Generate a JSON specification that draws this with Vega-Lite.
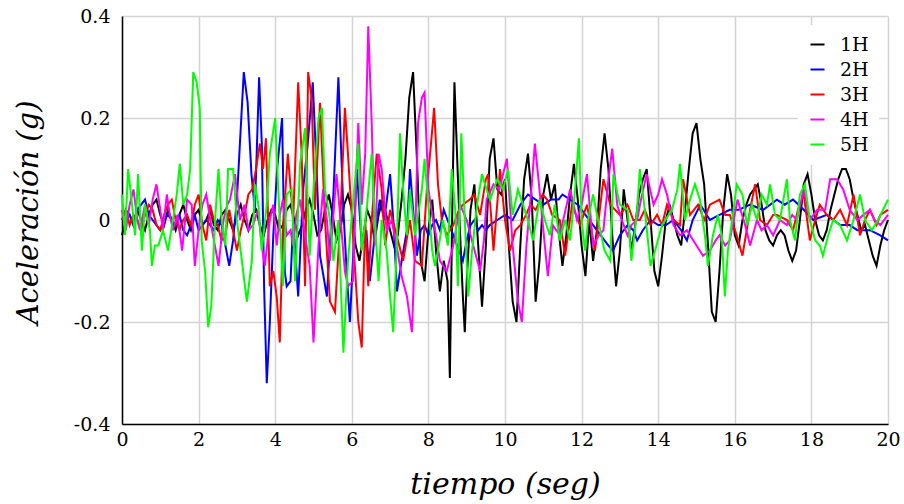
{
  "$schema": "https://vega.github.io/schema/vega-lite/v6.json",
  "width": 766,
  "height": 408,
  "autosize": {"type": "none"},
  "padding": {"left": 122, "top": 16, "right": 16, "bottom": 80},
  "background": "white",
  "config": {"view": {"stroke": null}, "font": "DejaVu Serif"},
  "datasets": {
    "h1": [{"t":0,"g":-0.03},{"t":0.1,"g":0},{"t":0.2,"g":0.01},{"t":0.3,"g":-0.01},{"t":0.4,"g":0.02},{"t":0.5,"g":0},{"t":0.6,"g":-0.02},{"t":0.7,"g":0.01},{"t":0.8,"g":0.03},{"t":0.9,"g":0.04},{"t":1,"g":0.01},{"t":1.1,"g":-0.01},{"t":1.2,"g":0.02},{"t":1.3,"g":0},{"t":1.4,"g":-0.02},{"t":1.5,"g":0.01},{"t":1.6,"g":0.03},{"t":1.7,"g":0},{"t":1.8,"g":-0.02},{"t":1.9,"g":0.01},{"t":2,"g":0.02},{"t":2.1,"g":-0.01},{"t":2.2,"g":0},{"t":2.3,"g":0.02},{"t":2.4,"g":-0.01},{"t":2.5,"g":-0.02},{"t":2.6,"g":0.01},{"t":2.7,"g":0.02},{"t":2.8,"g":0},{"t":2.9,"g":-0.02},{"t":3,"g":0.01},{"t":3.1,"g":0.03},{"t":3.2,"g":0},{"t":3.3,"g":-0.02},{"t":3.4,"g":0.01},{"t":3.5,"g":0.02},{"t":3.6,"g":-0.01},{"t":3.7,"g":-0.03},{"t":3.8,"g":0},{"t":3.9,"g":0.02},{"t":4,"g":0.01},{"t":4.1,"g":-0.02},{"t":4.2,"g":-0.01},{"t":4.3,"g":0.02},{"t":4.4,"g":0.03},{"t":4.5,"g":0},{"t":4.6,"g":-0.03},{"t":4.7,"g":-0.01},{"t":4.8,"g":0.02},{"t":4.9,"g":0.04},{"t":5,"g":0.01},{"t":5.1,"g":-0.03},{"t":5.2,"g":-0.02},{"t":5.3,"g":0.02},{"t":5.4,"g":0.05},{"t":5.5,"g":0.01},{"t":5.6,"g":-0.04},{"t":5.7,"g":-0.02},{"t":5.8,"g":0.03},{"t":5.9,"g":0.05},{"t":6,"g":0.02},{"t":6.1,"g":-0.05},{"t":6.2,"g":-0.08},{"t":6.3,"g":-0.03},{"t":6.4,"g":0.02},{"t":6.5,"g":0},{"t":6.6,"g":-0.04},{"t":6.7,"g":0.01},{"t":6.8,"g":0.04},{"t":6.9,"g":0.01},{"t":7,"g":-0.02},{"t":7.1,"g":-0.05},{"t":7.2,"g":-0.03},{"t":7.3,"g":0.04},{"t":7.4,"g":0.12},{"t":7.5,"g":0.24},{"t":7.6,"g":0.29},{"t":7.7,"g":0.12},{"t":7.8,"g":-0.08},{"t":7.9,"g":-0.12},{"t":8,"g":-0.02},{"t":8.1,"g":0.04},{"t":8.2,"g":-0.06},{"t":8.3,"g":-0.14},{"t":8.4,"g":-0.08},{"t":8.5,"g":-0.12},{"t":8.56,"g":-0.31},{"t":8.62,"g":0},{"t":8.68,"g":0.27},{"t":8.8,"g":0.02},{"t":8.9,"g":-0.15},{"t":8.95,"g":-0.22},{"t":9,"g":-0.12},{"t":9.1,"g":0.02},{"t":9.2,"g":0.07},{"t":9.3,"g":-0.05},{"t":9.4,"g":-0.17},{"t":9.5,"g":-0.05},{"t":9.6,"g":0.12},{"t":9.7,"g":0.16},{"t":9.8,"g":0.06},{"t":9.9,"g":0.05},{"t":10,"g":0.08},{"t":10.1,"g":-0.05},{"t":10.2,"g":-0.16},{"t":10.3,"g":-0.2},{"t":10.4,"g":-0.05},{"t":10.5,"g":0.08},{"t":10.6,"g":0.13},{"t":10.7,"g":0.04},{"t":10.8,"g":-0.16},{"t":10.9,"g":-0.08},{"t":11,"g":0.05},{"t":11.1,"g":0.09},{"t":11.2,"g":0.04},{"t":11.3,"g":0.07},{"t":11.4,"g":-0.02},{"t":11.5,"g":-0.09},{"t":11.6,"g":-0.03},{"t":11.7,"g":0.05},{"t":11.8,"g":0.11},{"t":11.9,"g":0.04},{"t":12,"g":-0.05},{"t":12.1,"g":-0.11},{"t":12.2,"g":0},{"t":12.3,"g":-0.08},{"t":12.4,"g":-0.02},{"t":12.5,"g":0.1},{"t":12.6,"g":0.17},{"t":12.7,"g":0.1},{"t":12.8,"g":-0.03},{"t":12.9,"g":-0.13},{"t":13,"g":-0.06},{"t":13.1,"g":0.06},{"t":13.2,"g":0},{"t":13.3,"g":-0.06},{"t":13.4,"g":-0.01},{"t":13.5,"g":0.05},{"t":13.6,"g":0.08},{"t":13.7,"g":0.1},{"t":13.8,"g":0},{"t":13.9,"g":-0.1},{"t":14,"g":-0.13},{"t":14.1,"g":-0.07},{"t":14.2,"g":0},{"t":14.3,"g":0.03},{"t":14.4,"g":0},{"t":14.5,"g":-0.03},{"t":14.6,"g":-0.05},{"t":14.7,"g":0.02},{"t":14.8,"g":0.1},{"t":14.9,"g":0.17},{"t":15,"g":0.19},{"t":15.1,"g":0.12},{"t":15.2,"g":0.07},{"t":15.3,"g":-0.05},{"t":15.4,"g":-0.18},{"t":15.5,"g":-0.2},{"t":15.6,"g":-0.1},{"t":15.7,"g":0.02},{"t":15.8,"g":0.09},{"t":15.9,"g":0.05},{"t":16,"g":-0.03},{"t":16.1,"g":-0.05},{"t":16.2,"g":0},{"t":16.3,"g":0.03},{"t":16.4,"g":0.05},{"t":16.5,"g":0.06},{"t":16.6,"g":0.07},{"t":16.7,"g":0.03},{"t":16.8,"g":-0.02},{"t":16.9,"g":-0.04},{"t":17,"g":-0.05},{"t":17.1,"g":-0.03},{"t":17.2,"g":-0.02},{"t":17.3,"g":-0.03},{"t":17.4,"g":-0.06},{"t":17.5,"g":-0.08},{"t":17.6,"g":-0.06},{"t":17.7,"g":0},{"t":17.8,"g":0.07},{"t":17.9,"g":0.09},{"t":18,"g":0.05},{"t":18.1,"g":0},{"t":18.2,"g":-0.03},{"t":18.3,"g":-0.04},{"t":18.4,"g":-0.02},{"t":18.5,"g":0.02},{"t":18.6,"g":0.05},{"t":18.7,"g":0.08},{"t":18.8,"g":0.1},{"t":18.9,"g":0.1},{"t":19,"g":0.08},{"t":19.1,"g":0.04},{"t":19.2,"g":0.01},{"t":19.3,"g":-0.02},{"t":19.4,"g":-0.01},{"t":19.5,"g":-0.04},{"t":19.6,"g":-0.07},{"t":19.7,"g":-0.09},{"t":19.8,"g":-0.05},{"t":19.9,"g":-0.02},{"t":20,"g":0}],
    "h2": [{"t":0,"g":0},{"t":0.1,"g":0.02},{"t":0.2,"g":0.01},{"t":0.3,"g":-0.01},{"t":0.4,"g":0.02},{"t":0.5,"g":0.03},{"t":0.6,"g":0.04},{"t":0.7,"g":0.01},{"t":0.8,"g":0},{"t":0.9,"g":-0.01},{"t":1,"g":-0.02},{"t":1.1,"g":0},{"t":1.2,"g":0.01},{"t":1.3,"g":0},{"t":1.4,"g":-0.01},{"t":1.5,"g":0.01},{"t":1.6,"g":-0.02},{"t":1.7,"g":-0.03},{"t":1.8,"g":-0.01},{"t":1.9,"g":0.01},{"t":2,"g":-0.02},{"t":2.1,"g":-0.01},{"t":2.2,"g":0},{"t":2.3,"g":-0.01},{"t":2.4,"g":-0.02},{"t":2.5,"g":0},{"t":2.6,"g":-0.01},{"t":2.7,"g":-0.05},{"t":2.8,"g":-0.09},{"t":2.9,"g":-0.04},{"t":3,"g":0.04},{"t":3.1,"g":0.18},{"t":3.18,"g":0.29},{"t":3.28,"g":0.23},{"t":3.38,"g":0.09},{"t":3.47,"g":0.02},{"t":3.58,"g":0.28},{"t":3.65,"g":0.15},{"t":3.71,"g":-0.13},{"t":3.78,"g":-0.32},{"t":3.86,"g":-0.2},{"t":3.95,"g":-0.03},{"t":4.05,"g":0.1},{"t":4.18,"g":0.2},{"t":4.25,"g":-0.1},{"t":4.3,"g":-0.13},{"t":4.4,"g":-0.12},{"t":4.47,"g":0},{"t":4.6,"g":-0.15},{"t":4.73,"g":0.06},{"t":4.85,"g":0.15},{"t":4.98,"g":0.27},{"t":5.08,"g":0.1},{"t":5.17,"g":-0.07},{"t":5.35,"g":-0.15},{"t":5.45,"g":-0.02},{"t":5.52,"g":0.05},{"t":5.65,"g":0.28},{"t":5.78,"g":0.02},{"t":5.88,"g":-0.12},{"t":5.95,"g":-0.2},{"t":6.05,"g":-0.05},{"t":6.13,"g":0.1},{"t":6.26,"g":-0.05},{"t":6.38,"g":-0.02},{"t":6.47,"g":-0.12},{"t":6.6,"g":-0.03},{"t":6.73,"g":0.04},{"t":6.85,"g":0},{"t":7,"g":0.09},{"t":7.1,"g":-0.02},{"t":7.18,"g":-0.14},{"t":7.3,"g":-0.08},{"t":7.44,"g":-0.02},{"t":7.52,"g":0.1},{"t":7.6,"g":0.02},{"t":7.7,"g":-0.07},{"t":7.8,"g":-0.02},{"t":7.9,"g":-0.01},{"t":8,"g":-0.03},{"t":8.1,"g":-0.01},{"t":8.2,"g":0},{"t":8.3,"g":-0.02},{"t":8.4,"g":0.02},{"t":8.5,"g":0},{"t":8.6,"g":-0.02},{"t":8.7,"g":-0.04},{"t":8.8,"g":-0.06},{"t":8.9,"g":-0.08},{"t":9,"g":-0.04},{"t":9.1,"g":-0.01},{"t":9.2,"g":0},{"t":9.3,"g":-0.02},{"t":9.4,"g":-0.01},{"t":9.5,"g":-0.02},{"t":9.6,"g":-0.01},{"t":9.8,"g":0},{"t":10,"g":0.01},{"t":10.2,"g":0},{"t":10.4,"g":0.03},{"t":10.6,"g":0.05},{"t":10.8,"g":0.04},{"t":11,"g":0.03},{"t":11.2,"g":0.04},{"t":11.4,"g":0.04},{"t":11.5,"g":0.05},{"t":11.7,"g":0.04},{"t":11.9,"g":0.03},{"t":12.1,"g":0.01},{"t":12.3,"g":-0.01},{"t":12.5,"g":-0.03},{"t":12.7,"g":-0.05},{"t":12.82,"g":-0.06},{"t":13,"g":-0.03},{"t":13.2,"g":-0.01},{"t":13.35,"g":-0.02},{"t":13.45,"g":-0.04},{"t":13.6,"g":-0.02},{"t":13.8,"g":0},{"t":14,"g":-0.01},{"t":14.2,"g":-0.01},{"t":14.4,"g":0},{"t":14.6,"g":-0.02},{"t":14.75,"g":-0.04},{"t":14.9,"g":0},{"t":15.1,"g":0.03},{"t":15.35,"g":0},{"t":15.6,"g":0.01},{"t":15.87,"g":0.02},{"t":16.1,"g":0.02},{"t":16.4,"g":0.03},{"t":16.74,"g":0.02},{"t":17.1,"g":0.04},{"t":17.3,"g":0.03},{"t":17.52,"g":0.04},{"t":17.8,"g":0.02},{"t":18.05,"g":0},{"t":18.4,"g":0.01},{"t":18.75,"g":-0.01},{"t":19,"g":-0.01},{"t":19.2,"g":-0.02},{"t":19.53,"g":-0.02},{"t":19.8,"g":-0.03},{"t":20,"g":-0.04}],
    "h3": [{"t":0,"g":0},{"t":0.1,"g":0.02},{"t":0.2,"g":-0.01},{"t":0.3,"g":0.01},{"t":0.4,"g":0},{"t":0.5,"g":-0.02},{"t":0.6,"g":0.01},{"t":0.7,"g":0.03},{"t":0.8,"g":0.02},{"t":0.9,"g":-0.01},{"t":1,"g":-0.02},{"t":1.1,"g":0.01},{"t":1.2,"g":0.03},{"t":1.3,"g":0.04},{"t":1.4,"g":0},{"t":1.5,"g":-0.02},{"t":1.6,"g":0},{"t":1.7,"g":0.01},{"t":1.8,"g":-0.01},{"t":1.9,"g":0.03},{"t":2,"g":0.05},{"t":2.1,"g":-0.01},{"t":2.2,"g":-0.04},{"t":2.3,"g":0.03},{"t":2.4,"g":0},{"t":2.5,"g":-0.01},{"t":2.6,"g":-0.04},{"t":2.7,"g":-0.03},{"t":2.8,"g":0.02},{"t":2.9,"g":-0.02},{"t":3,"g":-0.06},{"t":3.1,"g":-0.02},{"t":3.2,"g":0.01},{"t":3.3,"g":0.05},{"t":3.4,"g":0.06},{"t":3.5,"g":0.1},{"t":3.6,"g":0.15},{"t":3.68,"g":0.1},{"t":3.76,"g":0.16},{"t":3.86,"g":-0.13},{"t":3.95,"g":-0.1},{"t":4.04,"g":-0.15},{"t":4.12,"g":-0.24},{"t":4.2,"g":-0.02},{"t":4.33,"g":0.13},{"t":4.47,"g":0},{"t":4.6,"g":0.27},{"t":4.69,"g":0.13},{"t":4.78,"g":-0.13},{"t":4.86,"g":0.29},{"t":4.95,"g":0.24},{"t":5.04,"g":0.02},{"t":5.17,"g":0.23},{"t":5.3,"g":0},{"t":5.43,"g":-0.16},{"t":5.56,"g":-0.18},{"t":5.7,"g":0},{"t":5.82,"g":0.22},{"t":5.9,"g":0.13},{"t":6.03,"g":-0.03},{"t":6.17,"g":-0.2},{"t":6.26,"g":-0.25},{"t":6.35,"g":0},{"t":6.43,"g":-0.13},{"t":6.52,"g":0},{"t":6.65,"g":0.13},{"t":6.78,"g":0.06},{"t":6.87,"g":-0.05},{"t":7,"g":0.02},{"t":7.17,"g":-0.03},{"t":7.34,"g":-0.08},{"t":7.52,"g":0},{"t":7.65,"g":-0.08},{"t":7.83,"g":-0.09},{"t":7.96,"g":0.06},{"t":8.08,"g":0.16},{"t":8.15,"g":0.22},{"t":8.25,"g":0.07},{"t":8.35,"g":0},{"t":8.48,"g":-0.03},{"t":8.65,"g":-0.01},{"t":8.8,"g":0.02},{"t":8.9,"g":0.03},{"t":9.08,"g":0.04},{"t":9.2,"g":0.05},{"t":9.35,"g":0.01},{"t":9.5,"g":0.08},{"t":9.56,"g":0.09},{"t":9.7,"g":-0.06},{"t":9.87,"g":0.1},{"t":10,"g":0},{"t":10.13,"g":-0.06},{"t":10.27,"g":-0.02},{"t":10.4,"g":-0.01},{"t":10.55,"g":0.01},{"t":10.66,"g":0.03},{"t":10.8,"g":0.02},{"t":10.98,"g":0.05},{"t":11.1,"g":0.04},{"t":11.23,"g":0.01},{"t":11.43,"g":0},{"t":11.57,"g":-0.07},{"t":11.75,"g":0.03},{"t":11.96,"g":-0.01},{"t":12.14,"g":0.03},{"t":12.35,"g":-0.06},{"t":12.57,"g":0.08},{"t":12.75,"g":0.03},{"t":13,"g":0.01},{"t":13.2,"g":0.03},{"t":13.35,"g":0},{"t":13.52,"g":0},{"t":13.65,"g":0.02},{"t":13.8,"g":-0.01},{"t":13.97,"g":0.01},{"t":14.1,"g":-0.01},{"t":14.23,"g":0.03},{"t":14.4,"g":0},{"t":14.57,"g":-0.01},{"t":14.65,"g":0.08},{"t":14.83,"g":0.01},{"t":15.04,"g":0.03},{"t":15.2,"g":0},{"t":15.35,"g":0.03},{"t":15.6,"g":0.04},{"t":15.75,"g":0.01},{"t":15.87,"g":0.01},{"t":16.05,"g":-0.03},{"t":16.2,"g":-0.07},{"t":16.4,"g":0.02},{"t":16.53,"g":0.07},{"t":16.66,"g":0},{"t":16.84,"g":-0.01},{"t":17,"g":0.01},{"t":17.1,"g":0.01},{"t":17.36,"g":0},{"t":17.52,"g":-0.02},{"t":17.65,"g":0.02},{"t":17.8,"g":0.05},{"t":17.96,"g":-0.04},{"t":18.1,"g":0},{"t":18.22,"g":0.03},{"t":18.4,"g":0.01},{"t":18.57,"g":0},{"t":18.75,"g":0.02},{"t":18.93,"g":-0.01},{"t":19.1,"g":0.05},{"t":19.27,"g":-0.03},{"t":19.4,"g":0},{"t":19.53,"g":0.02},{"t":19.7,"g":-0.01},{"t":19.8,"g":0.01},{"t":20,"g":0.02}],
    "h4": [{"t":0,"g":0.02},{"t":0.1,"g":-0.02},{"t":0.2,"g":0.03},{"t":0.3,"g":0.06},{"t":0.4,"g":0},{"t":0.47,"g":-0.02},{"t":0.6,"g":0.03},{"t":0.7,"g":-0.01},{"t":0.8,"g":0.04},{"t":0.9,"g":0.07},{"t":1,"g":0.02},{"t":1.07,"g":-0.02},{"t":1.17,"g":0.05},{"t":1.25,"g":0.01},{"t":1.33,"g":-0.02},{"t":1.45,"g":0.01},{"t":1.57,"g":-0.06},{"t":1.7,"g":0.04},{"t":1.82,"g":0.03},{"t":1.9,"g":-0.09},{"t":2.03,"g":0},{"t":2.1,"g":0.03},{"t":2.2,"g":0.05},{"t":2.35,"g":-0.02},{"t":2.45,"g":-0.06},{"t":2.52,"g":-0.09},{"t":2.65,"g":0},{"t":2.75,"g":0.03},{"t":2.82,"g":0.04},{"t":2.95,"g":0.09},{"t":3.08,"g":0},{"t":3.2,"g":0.03},{"t":3.3,"g":-0.02},{"t":3.42,"g":-0.01},{"t":3.55,"g":0.02},{"t":3.65,"g":-0.05},{"t":3.73,"g":-0.09},{"t":3.86,"g":0},{"t":3.95,"g":0.03},{"t":4.04,"g":-0.05},{"t":4.12,"g":0.01},{"t":4.2,"g":0.04},{"t":4.3,"g":-0.03},{"t":4.4,"g":-0.02},{"t":4.47,"g":-0.05},{"t":4.55,"g":0.01},{"t":4.65,"g":0.04},{"t":4.78,"g":-0.03},{"t":4.9,"g":-0.09},{"t":5,"g":-0.24},{"t":5.13,"g":-0.05},{"t":5.25,"g":0.06},{"t":5.35,"g":0},{"t":5.43,"g":-0.08},{"t":5.5,"g":-0.01},{"t":5.6,"g":0.09},{"t":5.73,"g":-0.02},{"t":5.82,"g":-0.1},{"t":5.9,"g":-0.13},{"t":6.03,"g":-0.12},{"t":6.1,"g":0.05},{"t":6.17,"g":0.19},{"t":6.26,"g":0.03},{"t":6.35,"g":0.13},{"t":6.43,"g":0.38},{"t":6.52,"g":0.19},{"t":6.6,"g":-0.05},{"t":6.7,"g":0.13},{"t":6.78,"g":0.1},{"t":6.91,"g":-0.02},{"t":7.04,"g":0},{"t":7.17,"g":-0.05},{"t":7.3,"g":-0.11},{"t":7.44,"g":-0.15},{"t":7.57,"g":-0.22},{"t":7.65,"g":-0.05},{"t":7.73,"g":0.19},{"t":7.83,"g":0.24},{"t":7.9,"g":0.25},{"t":8,"g":0.06},{"t":8.12,"g":0},{"t":8.2,"g":-0.03},{"t":8.3,"g":-0.08},{"t":8.48,"g":-0.1},{"t":8.65,"g":-0.05},{"t":8.83,"g":0.03},{"t":9,"g":0},{"t":9.17,"g":-0.05},{"t":9.35,"g":-0.1},{"t":9.45,"g":-0.04},{"t":9.52,"g":0.04},{"t":9.7,"g":0.07},{"t":9.85,"g":0.06},{"t":10.05,"g":0.12},{"t":10.2,"g":-0.05},{"t":10.34,"g":-0.16},{"t":10.44,"g":-0.2},{"t":10.56,"g":-0.05},{"t":10.7,"g":0.07},{"t":10.78,"g":0.15},{"t":10.9,"g":0.06},{"t":11.04,"g":-0.05},{"t":11.12,"g":-0.11},{"t":11.25,"g":-0.01},{"t":11.43,"g":-0.03},{"t":11.55,"g":0.01},{"t":11.7,"g":0.06},{"t":11.88,"g":0},{"t":12,"g":0.03},{"t":12.14,"g":0.09},{"t":12.3,"g":-0.05},{"t":12.45,"g":-0.03},{"t":12.57,"g":-0.02},{"t":12.7,"g":0.08},{"t":12.8,"g":0.14},{"t":12.93,"g":0.03},{"t":13.05,"g":0},{"t":13.2,"g":-0.03},{"t":13.3,"g":-0.01},{"t":13.45,"g":0},{"t":13.55,"g":0.04},{"t":13.7,"g":0.09},{"t":13.88,"g":0.03},{"t":14,"g":0.05},{"t":14.1,"g":0.08},{"t":14.23,"g":0.05},{"t":14.4,"g":-0.01},{"t":14.57,"g":-0.03},{"t":14.75,"g":-0.02},{"t":15,"g":-0.05},{"t":15.17,"g":-0.07},{"t":15.35,"g":-0.06},{"t":15.5,"g":-0.04},{"t":15.6,"g":-0.03},{"t":15.75,"g":-0.05},{"t":15.87,"g":-0.04},{"t":16.07,"g":0.04},{"t":16.15,"g":0.02},{"t":16.27,"g":-0.01},{"t":16.4,"g":-0.05},{"t":16.58,"g":0},{"t":16.7,"g":-0.02},{"t":16.84,"g":-0.01},{"t":17,"g":-0.03},{"t":17.18,"g":0},{"t":17.36,"g":-0.01},{"t":17.5,"g":0.01},{"t":17.62,"g":0},{"t":17.8,"g":0.06},{"t":17.96,"g":0},{"t":18.15,"g":0.02},{"t":18.36,"g":0.02},{"t":18.49,"g":0.08},{"t":18.67,"g":0.08},{"t":18.83,"g":0.06},{"t":19,"g":0.02},{"t":19.2,"g":0},{"t":19.36,"g":0.01},{"t":19.53,"g":0.02},{"t":19.65,"g":0},{"t":19.8,"g":-0.01},{"t":20,"g":0.01}],
    "h5": [{"t":0,"g":0.05},{"t":0.08,"g":-0.03},{"t":0.16,"g":0.1},{"t":0.25,"g":0.04},{"t":0.34,"g":-0.03},{"t":0.42,"g":0.09},{"t":0.52,"g":-0.06},{"t":0.6,"g":0.03},{"t":0.73,"g":-0.02},{"t":0.78,"g":-0.09},{"t":0.86,"g":-0.05},{"t":0.95,"g":-0.05},{"t":1.07,"g":-0.02},{"t":1.2,"g":-0.06},{"t":1.33,"g":0},{"t":1.43,"g":0.05},{"t":1.51,"g":0.11},{"t":1.6,"g":0.03},{"t":1.7,"g":0.05},{"t":1.78,"g":0.1},{"t":1.86,"g":0.29},{"t":1.95,"g":0.27},{"t":2.03,"g":0.22},{"t":2.08,"g":-0.04},{"t":2.17,"g":-0.1},{"t":2.25,"g":-0.21},{"t":2.33,"g":-0.17},{"t":2.43,"g":0},{"t":2.52,"g":0.1},{"t":2.6,"g":0},{"t":2.7,"g":-0.05},{"t":2.77,"g":0.1},{"t":2.9,"g":0.1},{"t":3,"g":0},{"t":3.13,"g":-0.08},{"t":3.26,"g":-0.16},{"t":3.39,"g":-0.08},{"t":3.47,"g":0.07},{"t":3.56,"g":0.03},{"t":3.65,"g":-0.06},{"t":3.78,"g":0.03},{"t":3.86,"g":0.13},{"t":4,"g":0.2},{"t":4.08,"g":0.06},{"t":4.2,"g":-0.13},{"t":4.3,"g":0.05},{"t":4.43,"g":0.06},{"t":4.52,"g":-0.12},{"t":4.65,"g":0.11},{"t":4.78,"g":0.18},{"t":4.9,"g":-0.07},{"t":5,"g":0.06},{"t":5.13,"g":0.2},{"t":5.22,"g":0.22},{"t":5.3,"g":0.06},{"t":5.43,"g":0},{"t":5.52,"g":-0.08},{"t":5.65,"g":0},{"t":5.78,"g":-0.26},{"t":5.9,"g":-0.08},{"t":6.03,"g":0.03},{"t":6.17,"g":0.15},{"t":6.26,"g":-0.06},{"t":6.4,"g":0.03},{"t":6.52,"g":0.13},{"t":6.6,"g":0},{"t":6.7,"g":-0.12},{"t":6.78,"g":0},{"t":6.91,"g":-0.06},{"t":7,"g":-0.15},{"t":7.08,"g":-0.22},{"t":7.17,"g":-0.06},{"t":7.26,"g":0.17},{"t":7.34,"g":0.06},{"t":7.44,"g":-0.03},{"t":7.52,"g":0.06},{"t":7.65,"g":-0.03},{"t":7.83,"g":0.06},{"t":7.9,"g":0.12},{"t":8,"g":0.03},{"t":8.1,"g":-0.06},{"t":8.17,"g":-0.09},{"t":8.25,"g":-0.06},{"t":8.38,"g":0},{"t":8.51,"g":-0.05},{"t":8.61,"g":0.1},{"t":8.7,"g":0.02},{"t":8.77,"g":-0.13},{"t":8.86,"g":0.17},{"t":8.95,"g":0},{"t":9.04,"g":-0.15},{"t":9.14,"g":-0.06},{"t":9.27,"g":0.03},{"t":9.4,"g":0.09},{"t":9.52,"g":0.06},{"t":9.61,"g":0.04},{"t":9.8,"g":0.08},{"t":9.95,"g":0.06},{"t":10.08,"g":0.1},{"t":10.2,"g":0.01},{"t":10.34,"g":0.06},{"t":10.47,"g":0.03},{"t":10.6,"g":0},{"t":10.73,"g":-0.04},{"t":10.9,"g":0.04},{"t":11.04,"g":0},{"t":11.17,"g":-0.03},{"t":11.3,"g":0.03},{"t":11.43,"g":-0.04},{"t":11.57,"g":0},{"t":11.7,"g":-0.04},{"t":11.83,"g":0.06},{"t":11.93,"g":0.16},{"t":12,"g":0},{"t":12.09,"g":-0.06},{"t":12.17,"g":0},{"t":12.3,"g":0.05},{"t":12.43,"g":0},{"t":12.6,"g":-0.06},{"t":12.75,"g":-0.08},{"t":12.83,"g":0.09},{"t":13,"g":0.03},{"t":13.2,"g":0.02},{"t":13.3,"g":-0.08},{"t":13.45,"g":0.02},{"t":13.52,"g":0.1},{"t":13.65,"g":0.02},{"t":13.8,"g":-0.09},{"t":13.92,"g":-0.06},{"t":14.1,"g":-0.01},{"t":14.36,"g":0.02},{"t":14.5,"g":0.06},{"t":14.57,"g":0.11},{"t":14.7,"g":0},{"t":14.83,"g":0.04},{"t":14.96,"g":0.07},{"t":15.09,"g":0.04},{"t":15.22,"g":-0.03},{"t":15.3,"g":-0.09},{"t":15.43,"g":-0.03},{"t":15.56,"g":0.01},{"t":15.66,"g":-0.03},{"t":15.74,"g":-0.15},{"t":15.82,"g":-0.06},{"t":15.95,"g":0.01},{"t":16.05,"g":0.07},{"t":16.2,"g":0.05},{"t":16.32,"g":-0.01},{"t":16.45,"g":0.03},{"t":16.58,"g":0},{"t":16.7,"g":0.05},{"t":16.84,"g":0.03},{"t":16.92,"g":0.07},{"t":17.05,"g":0.01},{"t":17.18,"g":0},{"t":17.36,"g":0.08},{"t":17.44,"g":0},{"t":17.57,"g":-0.04},{"t":17.7,"g":0.05},{"t":17.83,"g":0.07},{"t":17.96,"g":0},{"t":18.1,"g":-0.04},{"t":18.22,"g":-0.05},{"t":18.3,"g":-0.07},{"t":18.44,"g":-0.03},{"t":18.57,"g":0},{"t":18.75,"g":-0.01},{"t":18.93,"g":-0.04},{"t":19.1,"g":0},{"t":19.27,"g":0.05},{"t":19.4,"g":0},{"t":19.58,"g":-0.02},{"t":19.74,"g":0},{"t":20,"g":0.04}]
  },
  "encoding": {
    "x": {
      "field": "t", "type": "quantitative",
      "scale": {"domain": [0, 20], "nice": false, "zero": false},
      "axis": {
        "values": [0, 2, 4, 6, 8, 10, 12, 14, 16, 18, 20],
        "format": "d",
        "grid": true, "gridColor": "#d4d4d4", "gridWidth": 1.5,
        "domainColor": "#000000", "domainWidth": 1.5,
        "ticks": false, "tickSize": 0,
        "labelFont": "DejaVu Serif", "labelFontSize": 19, "labelColor": "#000000",
        "labelPadding": 6, "labelFlush": false, "labelOverlap": false,
        "title": "tiempo (seg)",
        "titleFont": "DejaVu Serif", "titleFontSize": 30, "titleFontStyle": "italic", "titleFontWeight": "normal",
        "titleColor": "#000000", "titleY": 60, "titleBaseline": "middle"
      }
    },
    "y": {
      "field": "g", "type": "quantitative",
      "scale": {"domain": [-0.4, 0.4], "nice": false, "zero": false},
      "axis": {
        "values": [-0.4, -0.2, 0, 0.2, 0.4],
        "labelExpr": "datum.value == 0 ? '0' : (datum.value < 0 ? '-' + format(-datum.value, '.1f') : format(datum.value, '.1f'))",
        "grid": true, "gridColor": "#d4d4d4", "gridWidth": 1.5,
        "domainColor": "#000000", "domainWidth": 1.5,
        "ticks": false, "tickSize": 0,
        "labelFont": "DejaVu Serif", "labelFontSize": 19, "labelColor": "#000000",
        "labelPadding": 12, "labelFlush": false, "labelOverlap": false,
        "title": "Aceleración (g)",
        "titleFont": "DejaVu Serif", "titleFontSize": 29, "titleFontStyle": "italic", "titleFontWeight": "normal",
        "titleColor": "#000000", "titleX": -94, "titleY": 196, "titleAngle": -90, "titleBaseline": "middle", "titleAlign": "center"
      }
    }
  },
  "layer": [
    {"data": {"name": "h1"}, "mark": {"type": "line", "strokeWidth": 2},
     "encoding": {"color": {"datum": "1H", "type": "nominal",
       "scale": {"domain": ["1H", "2H", "3H", "4H", "5H"], "range": ["#000000", "#0000ff", "#ff0000", "#ff00ff", "#00ff00"]},
       "legend": {"title": null, "orient": "none", "legendX": 676, "legendY": 9, "padding": 10,
         "fillColor": "#ffffff", "symbolType": "stroke", "symbolSize": 196, "symbolStrokeWidth": 2,
         "labelFont": "DejaVu Serif", "labelFontSize": 19, "labelColor": "#000000", "labelOffset": 13,
         "rowPadding": 5}}}},
    {"data": {"name": "h2"}, "mark": {"type": "line", "strokeWidth": 2}, "encoding": {"color": {"datum": "2H", "type": "nominal"}}},
    {"data": {"name": "h3"}, "mark": {"type": "line", "strokeWidth": 2}, "encoding": {"color": {"datum": "3H", "type": "nominal"}}},
    {"data": {"name": "h4"}, "mark": {"type": "line", "strokeWidth": 2}, "encoding": {"color": {"datum": "4H", "type": "nominal"}}},
    {"data": {"name": "h5"}, "mark": {"type": "line", "strokeWidth": 2}, "encoding": {"color": {"datum": "5H", "type": "nominal"}}}
  ]
}
